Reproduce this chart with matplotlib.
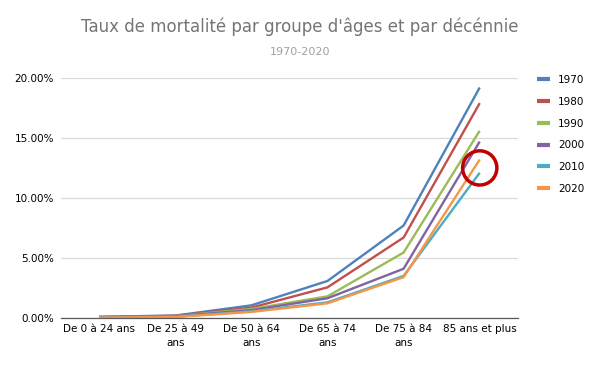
import matplotlib
matplotlib.use("Agg")
import matplotlib.pyplot as plt
from matplotlib.patches import Ellipse
from matplotlib.ticker import FuncFormatter, MultipleLocator

categories = ["De 0 à 24 ans", "De 25 à 49\nans", "De 50 à 64\nans", "De 65 à 74\nans", "De 75 à 84\nans", "85 ans et plus"]
years = ["1970", "1980", "1990", "2000", "2010", "2020"]
colors = ["#4F81BD", "#C0504D", "#9BBB59", "#8064A2", "#4BACC6", "#F79646"]

v1970 = [0.10, 0.20, 1.05, 3.08, 7.70, 19.20]
v1980 = [0.08, 0.18, 0.86, 2.55, 6.70, 17.90]
v1990 = [0.07, 0.15, 0.75, 1.80, 5.45, 15.60]
v2000 = [0.06, 0.14, 0.65, 1.64, 4.10, 14.70]
v2010 = [0.04, 0.10, 0.55, 1.30, 3.50, 12.10]
v2020 = [0.03, 0.08, 0.50, 1.22, 3.40, 13.20]
series = [v1970, v1980, v1990, v2000, v2010, v2020]

highlight_x = 5
highlight_y = 12.5

fig = plt.figure(figsize=(6, 3.71), dpi=100)
ax = fig.add_axes([0.1017, 0.143, 0.7613, 0.647])

x = list(range(len(categories)))
for yr, col, vals in zip(years, colors, series):
    ax.plot(x, [v / 100 for v in vals], color=col, lw=1.7, label=yr, solid_capstyle="butt")

ax.set_xlim(-0.5, len(categories) - 0.5)
ax.set_ylim(0, 0.20)
ax.yaxis.set_major_locator(MultipleLocator(0.05))
ax.yaxis.set_major_formatter(FuncFormatter(lambda v, p: f"{v*100:.2f}%"))
ax.grid(axis="y", color="#D9D9D9", lw=0.9)
ax.set_axisbelow(True)
for s in ["top", "right", "left"]:
    ax.spines[s].set_visible(False)
ax.spines["bottom"].set_color("#595959")
ax.spines["bottom"].set_linewidth(0.9)
ax.set_xticks(x)
ax.set_xticklabels(categories, fontsize=7.5, color="#000000", linespacing=1.6)
ax.tick_params(axis="x", length=0, pad=4)
ax.tick_params(axis="y", length=0, labelsize=7.5, labelcolor="#000000", pad=5)

ell = Ellipse((highlight_x, highlight_y / 100), width=0.45, height=0.0285,
              fill=False, edgecolor="#C00000", lw=2.5, zorder=5, clip_on=False)
ax.add_patch(ell)

handles, labels = ax.get_legend_handles_labels()
leg = fig.legend(handles, labels, loc="upper left", bbox_to_anchor=(0.88, 0.823),
                 frameon=False, fontsize=7.5, handlelength=1.2, handletextpad=0.8,
                 labelspacing=1.13)
for h in leg.get_lines():
    h.set_linewidth(3)

fig.text(0.5, 0.927, "Taux de mortalité par groupe d'âges et par décénnie",
         ha="center", va="center", fontsize=12, color="#757575")
fig.text(0.5, 0.86, "1970-2020", ha="center", va="center", fontsize=8, color="#A0A0A0")

fig.savefig("out.png", dpi=100)
